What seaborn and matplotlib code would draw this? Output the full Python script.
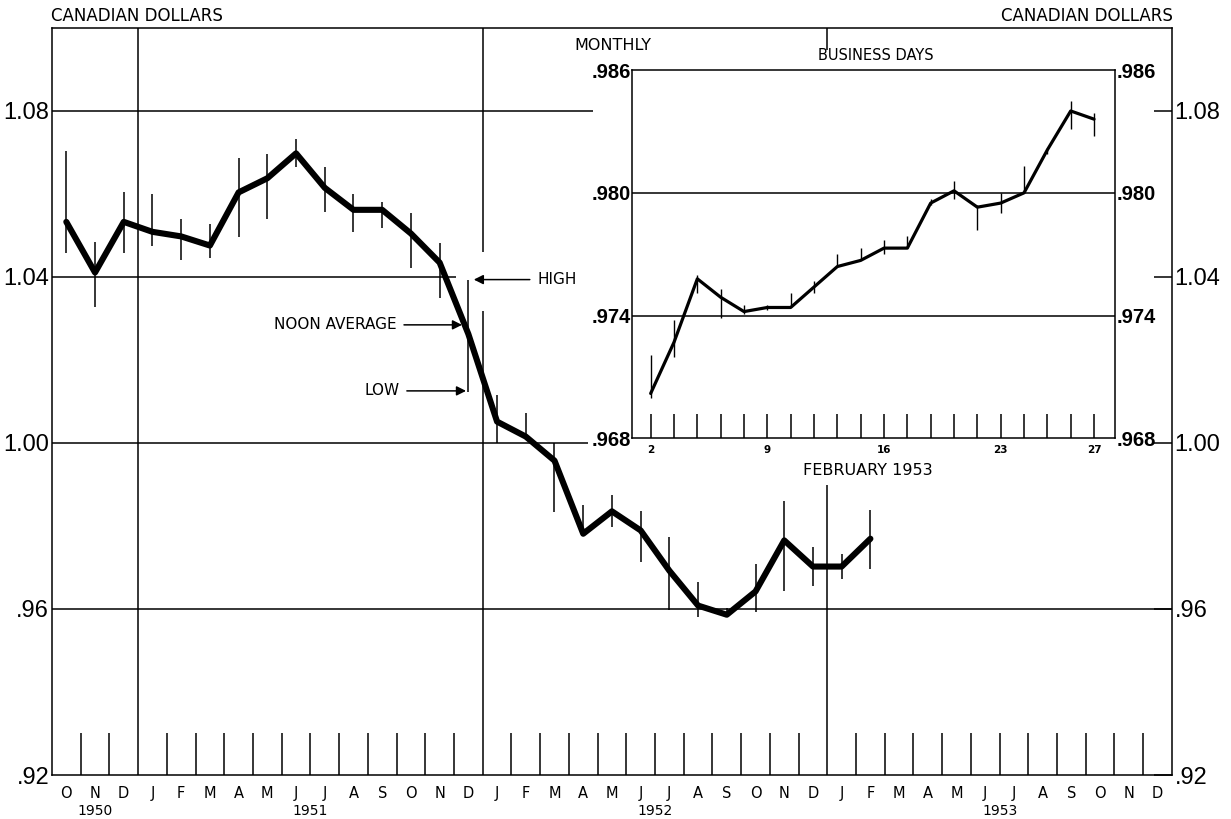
import matplotlib
matplotlib.use("Agg")
import matplotlib.pyplot as plt
import pandas as pd
import seaborn as sns

# monthly noon averages and monthly high / low, Oct 1950 - Feb 1953
month_letters = ["O", "N", "D",
                 "J", "F", "M", "A", "M", "J", "J", "A", "S", "O", "N", "D",
                 "J", "F", "M", "A", "M", "J", "J", "A", "S", "O", "N", "D",
                 "J", "F", "M", "A", "M", "J", "J", "A", "S", "O", "N", "D"]
years = ["1950", "1951", "1952", "1953"]
monthly_avg = [1.0532, 1.0410, 1.0532,
               1.0508, 1.0497, 1.0475, 1.0603, 1.0637, 1.0697,
               1.0614, 1.0561, 1.0561, 1.0504, 1.0434, 1.0262,
               1.0051, 1.0015, 0.9957, 0.9781, 0.9835, 0.9789,
               0.9692, 0.9608, 0.9586, 0.9642, 0.9765, 0.9702,
               0.9702, 0.9769]
monthly_high = [1.0702, 1.0483, 1.0604,
                1.0598, 1.0539, 1.0528, 1.0685, 1.0696, 1.0732,
                1.0663, 1.0599, 1.0579, 1.0554, 1.0481, 1.0393,
                1.0116, 1.0071, 1.0000, 0.9851, 0.9875, 0.9835,
                0.9773, 0.9664, 0.9602, 0.9708, 0.9861, 0.9750,
                0.9733, 0.9839]
monthly_low = [1.0457, 1.0327, 1.0457,
               1.0475, 1.0441, 1.0445, 1.0496, 1.0538, 1.0663,
               1.0555, 1.0508, 1.0518, 1.0422, 1.0349, 1.0122,
               1.0000, 1.0008, 0.9833, 0.9778, 0.9797, 0.9712,
               0.9598, 0.9580, 0.9584, 0.9592, 0.9644, 0.9655,
               0.9672, 0.9696]

# business days, February 1953
days = [2, 3, 4, 5, 6, 9, 10, 11, 12, 13, 16, 17, 18, 19, 20, 23, 24, 25, 26, 27]
day_labels = {2: "2", 9: "9", 16: "16", 23: "23", 27: "27"}
daily_avg = [0.9702, 0.9727, 0.9758, 0.9749, 0.9742, 0.9744, 0.9744, 0.9754, 0.9764, 0.9767,
             0.9773, 0.9773, 0.9795, 0.9801, 0.9793, 0.9795, 0.9800, 0.9821, 0.9840, 0.9836]
daily_high = [0.9721, 0.9738, 0.9760, 0.9753, 0.9745, 0.9745, 0.9751, 0.9757, 0.9770, 0.9773,
              0.9777, 0.9779, 0.9797, 0.9806, 0.9794, 0.9800, 0.9813, 0.9822, 0.9845, 0.9839]
daily_low = [0.9700, 0.9720, 0.9751, 0.9739, 0.9741, 0.9743, 0.9744, 0.9751, 0.9764, 0.9767,
             0.9770, 0.9773, 0.9794, 0.9797, 0.9782, 0.9790, 0.9800, 0.9819, 0.9831, 0.9828]

main_ticks = [0.92, 0.96, 1.00, 1.04, 1.08]
main_tick_labels = [".92", ".96", "1.00", "1.04", "1.08"]
inset_ticks = [0.968, 0.974, 0.980, 0.986]
inset_tick_labels = [".968", ".974", ".980", ".986"]

sns.set_style("white")
plt.rcParams["font.family"] = ["DejaVu Sans"]
plt.rcParams["text.color"] = "black"
plt.rcParams["xtick.color"] = "black"
plt.rcParams["ytick.color"] = "black"
plt.rcParams["xtick.labelcolor"] = "black"
plt.rcParams["ytick.labelcolor"] = "black"
NARROW = ["Liberation Sans", "DejaVu Sans"]
LW = 1.1

monthly = pd.DataFrame({"pos": [i + 0.5 for i in range(len(monthly_avg))],
                        "avg": monthly_avg, "high": monthly_high, "low": monthly_low})
daily = pd.DataFrame({"pos": list(range(len(days))), "day": days,
                      "avg": daily_avg, "high": daily_high, "low": daily_low})

fig = plt.figure(figsize=(12.31, 8.19), dpi=100)
ax = fig.add_axes([0.0422, 0.0537, 0.9098, 0.9127])

# main chart
ax.vlines(monthly["pos"], monthly["low"], monthly["high"], color="black", lw=LW, zorder=2)
sns.lineplot(data=monthly, x="pos", y="avg", ax=ax, color="black", linewidth=4.4, zorder=3)

n_months = len(month_letters)
ax.set_xlim(0, n_months)
ax.set_ylim(0.92, 1.10)

# grid lines and year dividers
ax.hlines(1.08, 0, 18.84, color="black", lw=LW)
ax.hlines(1.04, 0, 14.08, color="black", lw=LW)
ax.hlines(1.00, 0, 18.66, color="black", lw=LW)
ax.axhline(0.96, color="black", lw=LW)
ax.vlines(3, 0.92, 1.10, color="black", lw=LW)
ax.vlines(15, 1.046, 1.10, color="black", lw=LW)
ax.vlines(15, 0.92, 1.0318, color="black", lw=LW)
ax.vlines(27, 1.0946, 1.10, color="black", lw=LW)
ax.vlines(27, 0.92, 0.9899, color="black", lw=LW)

boundaries = [b for b in range(1, n_months) if b not in (3, 15, 27)]
ax.set_xticks(boundaries)
ax.set_xticklabels([])
ax.set_xticks([i + 0.5 for i in range(n_months)], minor=True)
ax.set_xticklabels(month_letters, minor=True, fontsize=10.5)
ax.tick_params(axis="x", which="major", direction="in", length=30, width=LW,
               color="black", bottom=True)
ax.tick_params(axis="x", which="minor", length=0, pad=8, bottom=True)

ax.set_yticks(main_ticks)
ax.set_yticklabels(main_tick_labels, fontsize=17, fontfamily=NARROW)
ax.tick_params(axis="y", direction="in", length=13, width=LW, color="black",
               left=False, right=True, labelleft=True, labelright=True, pad=2)
ax.set_xlabel("")
ax.set_ylabel("")
for s in ax.spines.values():
    s.set_color("black")
    s.set_linewidth(LW)

for k, yr in enumerate(years):
    center = 1.5 if k == 0 else 3 + 12 * (k - 1) + 6
    ax.text(center, -0.048, yr, transform=ax.get_xaxis_transform(),
            ha="center", va="center", fontsize=10)

# HIGH / NOON AVERAGE / LOW key on the December 1951 bar
arrow = dict(arrowstyle="-|>", color="black", lw=1.1, shrinkA=3, shrinkB=0,
             mutation_scale=14)
ax.annotate("HIGH", xy=(14.69, 1.0393), xytext=(16.9, 1.0393), ha="left", va="center",
            fontsize=11, arrowprops=arrow)
ax.annotate("NOON AVERAGE", xy=(14.28, 1.0284), xytext=(12.0, 1.0284), ha="right",
            va="center", fontsize=11, arrowprops=arrow)
ax.annotate("LOW", xy=(14.42, 1.0125), xytext=(12.1, 1.0125), ha="right", va="center",
            fontsize=11, arrowprops=arrow)

fig.text(51 / 1231, 1 - 16 / 819, "CANADIAN DOLLARS", ha="left", va="center", fontsize=12)
fig.text(1173 / 1231, 1 - 16 / 819, "CANADIAN DOLLARS", ha="right", va="center", fontsize=12)
fig.text(613 / 1231, 1 - 45 / 819, "MONTHLY", ha="center", va="center", fontsize=11.5)
fig.text(876 / 1231, 1 - 56 / 819, "BUSINESS DAYS", ha="center", va="center", fontsize=10.5)
fig.text(868 / 1231, 1 - 471 / 819, "FEBRUARY 1953", ha="center", va="center", fontsize=11.5)

# inset: daily February 1953
ax_in = fig.add_axes([0.5134, 0.4646, 0.3924, 0.4499])
ax_in.set_facecolor("white")
ax_in.axhline(0.974, color="black", lw=LW)
ax_in.axhline(0.980, color="black", lw=LW)
ax_in.vlines(daily["pos"], daily["low"], daily["high"], color="black", lw=1.0, zorder=2)
sns.lineplot(data=daily, x="pos", y="avg", ax=ax_in, color="black", linewidth=2.3, zorder=3)
ax_in.set_xlim(-0.8, len(days) - 0.1)
ax_in.set_ylim(0.968, 0.986)
ax_in.set_xticks(list(daily["pos"]))
ax_in.set_xticklabels([day_labels.get(d, "") for d in days], fontsize=7.5, fontweight="bold")
ax_in.tick_params(axis="x", direction="in", length=17, width=LW, color="black",
                  bottom=True, pad=5)
ax_in.set_yticks(inset_ticks)
ax_in.set_yticklabels(inset_tick_labels, fontsize=14.5, fontfamily=NARROW, fontweight="bold")
ax_in.tick_params(axis="y", length=0, pad=1, labelleft=True, labelright=True)
ax_in.set_xlabel("")
ax_in.set_ylabel("")
for s in ax_in.spines.values():
    s.set_color("black")
    s.set_linewidth(LW)

fig.savefig("out.png", dpi=100)
